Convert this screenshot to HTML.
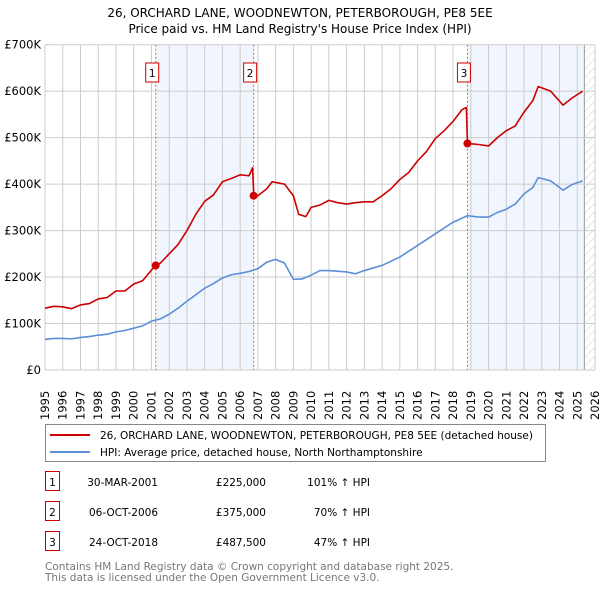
<!DOCTYPE html>
<html><head><meta charset="utf-8"><style>
body{margin:0;background:#fff;font-family:"DejaVu Sans","Liberation Sans",sans-serif;}
svg text{font-family:"DejaVu Sans","Liberation Sans",sans-serif;}
</style></head><body>
<svg id="c" width="600" height="590" xmlns="http://www.w3.org/2000/svg">
<defs><pattern id="hatch" width="6" height="6" patternUnits="userSpaceOnUse" patternTransform="rotate(45)"><line x1="0" y1="0" x2="0" y2="6" stroke="#ccc" stroke-width="1"/></pattern></defs>
<text x="300" y="17" text-anchor="middle" font-size="12" fill="#000">26, ORCHARD LANE, WOODNEWTON, PETERBOROUGH, PE8 5EE</text>
<text x="300" y="33" text-anchor="middle" font-size="12" fill="#000">Price paid vs. HM Land Registry's House Price Index (HPI)</text>
<g id="plot"></g>
<g>
<rect x="45.5" y="424.5" width="500" height="37" fill="#fff" stroke="#888"/>
<line x1="50" y1="435" x2="90" y2="435" stroke="#cc0000" stroke-width="2"/>
<text x="100" y="439" font-size="10.5">26, ORCHARD LANE, WOODNEWTON, PETERBOROUGH, PE8 5EE (detached house)</text>
<line x1="50" y1="452" x2="90" y2="452" stroke="#5b8fd6" stroke-width="2"/>
<text x="100" y="456" font-size="10.5">HPI: Average price, detached house, North Northamptonshire</text>
</g>
<g id="table" font-size="10.5"></g>
<text x="45" y="570" font-size="10.5" fill="#777">Contains HM Land Registry data © Crown copyright and database right 2025.</text>
<text x="45" y="581" font-size="10.5" fill="#777">This data is licensed under the Open Government Licence v3.0.</text>
</svg>
<script>
const hpiYears=[1995,1995.5,1996,1996.5,1997,1997.5,1998,1998.5,1999,1999.5,2000,2000.5,2001,2001.5,2002,2002.5,2003,2003.5,2004,2004.5,2005,2005.5,2006,2006.5,2007,2007.5,2008,2008.5,2009,2009.5,2010,2010.5,2011,2012,2012.5,2013,2014,2015,2016,2017,2018,2018.8,2019.5,2020,2020.5,2021,2021.5,2022,2022.5,2022.8,2023.5,2024.2,2024.7,2025.3];
const hpiValues=[66,68,68,67,70,72,75,77,82,85,90,95,105,110,120,133,148,162,176,186,198,205,208,212,218,232,238,230,195,196,204,214,214,211,207,214,225,243,268,293,318,332,329,329,339,346,357,379,393,414,407,387,399,407];
const priceYears=[1995,1995.5,1996,1996.5,1997,1997.5,1998,1998.5,1999,1999.5,2000,2000.5,2001,2001.25,2001.5,2002,2002.5,2003,2003.5,2004,2004.5,2005,2005.5,2006,2006.5,2006.7,2006.77,2007,2007.5,2007.8,2008.5,2009,2009.3,2009.7,2010,2010.5,2011,2011.5,2012,2012.5,2013,2013.5,2014,2014.5,2015,2015.5,2016,2016.5,2017,2017.5,2018,2018.5,2018.75,2018.81,2019.5,2020,2020.5,2021,2021.5,2022,2022.5,2022.8,2023.5,2024.2,2024.7,2025.3];
const priceValues=[133,137,136,132,140,143,153,156,170,170,185,192,215,225,230,250,270,300,335,363,377,405,412,420,418,435,375,375,390,405,400,375,335,330,350,355,365,360,357,360,362,362,375,390,410,425,450,470,498,515,535,560,565,487.5,485,482,500,515,525,555,580,610,600,570,585,600];
const saleLabels=["1","2","3"];
const saleYears=[2001.24,2006.76,2018.81];
const saleValues=[225,375,487.5];
const saleDates=["30-MAR-2001","06-OCT-2006","24-OCT-2018"];
const salePrices=["£225,000","£375,000","£487,500"];
const salePcts=["101% \u2191 HPI","70% \u2191 HPI","47% \u2191 HPI"];
const yTicks=[0,100,200,300,400,500,600,700];
const yTickLabels=["£0","£100K","£200K","£300K","£400K","£500K","£600K","£700K"];
const xTicks=[1995,1996,1997,1998,1999,2000,2001,2002,2003,2004,2005,2006,2007,2008,2009,2010,2011,2012,2013,2014,2015,2016,2017,2018,2019,2020,2021,2022,2023,2024,2025,2026];

const X0=45,X1=595,Y0=370,Y1=44.7,xmin=1995,xmax=2026,ymax=700,dataEnd=2025.4;
const sx=v=>X0+(v-xmin)/(xmax-xmin)*(X1-X0);
const sy=v=>Y0-v/ymax*(Y0-Y1);
const NS="http://www.w3.org/2000/svg";
const plot=document.getElementById('plot');
function mk(tag,attrs,parent){const e=document.createElementNS(NS,tag);for(const k in attrs)e.setAttribute(k,attrs[k]);(parent||plot).appendChild(e);return e;}
// shading
let s1=mk('rect',{x:sx(saleYears[0]),y:Y1,width:sx(saleYears[1])-sx(saleYears[0]),height:Y0-Y1,fill:'#eef3fc',opacity:0.8});


let s2=mk('rect',{x:sx(saleYears[2]),y:Y1,width:sx(dataEnd)-sx(saleYears[2]),height:Y0-Y1,fill:'#eef3fc',opacity:0.8});


let hr=mk('rect',{x:sx(dataEnd),y:Y1,width:X1-sx(dataEnd),height:Y0-Y1,fill:'url(#hatch)'});


mk('line',{x1:sx(dataEnd),y1:Y1,x2:sx(dataEnd),y2:Y0,stroke:'#999'});
// grid
xTicks.forEach((t,i)=>{
 const g=mk('line',{x1:sx(t),y1:Y1,x2:sx(t),y2:Y0,stroke:'#ccc','stroke-width':1});
 
 
 const tx=mk('text',{x:0,y:0,transform:`translate(${sx(t)+4},${Y0+50}) rotate(-90)`,'font-size':11.5});
 tx.textContent=t;
 
 
});
yTicks.forEach((t,i)=>{
 const g=mk('line',{x1:X0,y1:sy(t),x2:X1,y2:sy(t),stroke:'#ccc','stroke-width':1});
 
 
 const tx=mk('text',{x:X0-4,y:sy(t)+4,'text-anchor':'end','font-size':11.5});
 tx.textContent=yTickLabels[i];
 
 
});
// sale lines
saleYears.forEach((y,i)=>{
 const l=mk('line',{x1:sx(y),y1:Y1,x2:sx(y),y2:Y0,stroke:'#e06060','stroke-dasharray':'2,2'});
 
 
 const b=mk('rect',{x:sx(y)-10,y:63,width:13,height:19,fill:'#fff',stroke:'#cc0000'});
 
 
 const t=mk('text',{x:sx(y)-3.5,y:77,'text-anchor':'middle','font-size':10.5});
 t.textContent=saleLabels[i];
 
 
});
function line(xs,ys,color,name){
 const p=mk('polyline',{points:xs.map((x,i)=>sx(x)+','+sy(ys[i])).join(' '),fill:'none',stroke:color,'stroke-width':1.6,'stroke-linejoin':'round'});
 
 
}
line(hpiYears,hpiValues,'#5b8fd6','hpi-line');
line(priceYears,priceValues,'#cc0000','price-line');
saleYears.forEach((y,i)=>{
 const c=mk('circle',{cx:sx(y),cy:sy(saleValues[i]),r:4,fill:'#cc0000'});
 
 
});
// table
const tb=document.getElementById('table');
saleLabels.forEach((l,i)=>{
 const yy=483+i*30;
 const r=mk('rect',{x:45.5,y:yy-11.5,width:14,height:19,fill:'#fff',stroke:'#cc0000'},tb);
 
 
 const vals=[[52.5,l,'middle'],[158,saleDates[i],'end'],[266,salePrices[i],'end'],[370,salePcts[i],'end']];
 const names=['table-label','table-date','table-price','table-hpi-change'];
 vals.forEach((v,j)=>{
  const t=mk('text',{x:v[0],y:yy+3,'text-anchor':v[2]},tb);
  t.textContent=v[1];
  
  
 });
});
</script>
</body></html>
